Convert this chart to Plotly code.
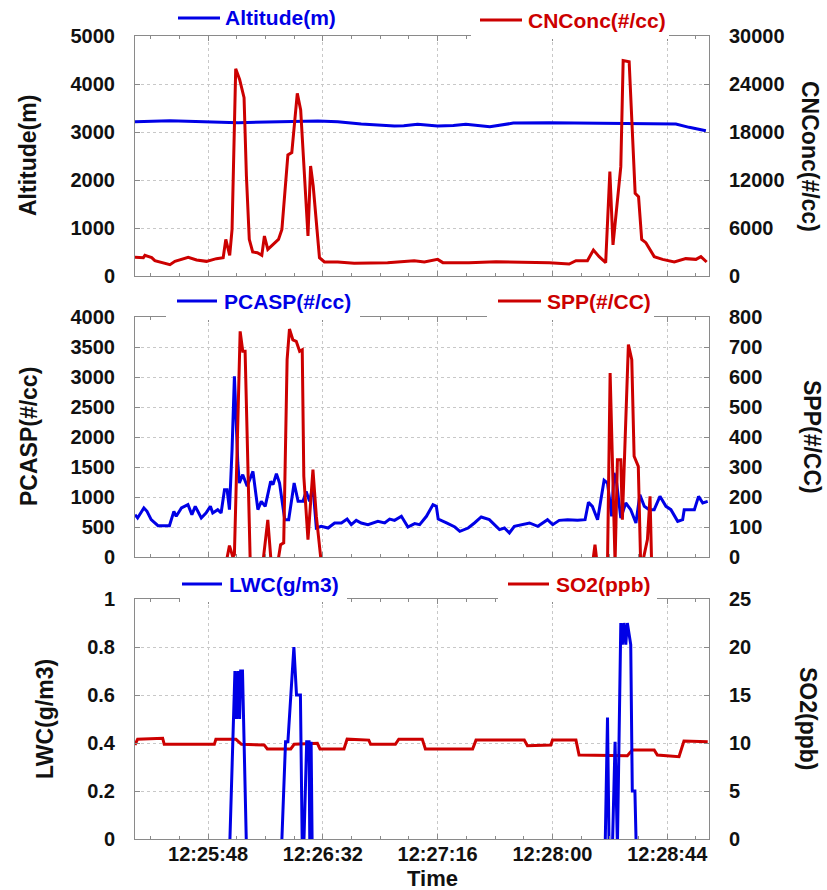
import pandas as pd
import plotly.graph_objects as go

BASE = pd.Timestamp("2000-01-01 12:25:20")
SPAN_S = 220

# ---------------- data (t = seconds after 12:25:20) ----------------
alt_t = [0, 13.4, 39.5, 70.1, 77.7, 86.7, 99.4, 103, 108.3, 116, 122, 126.8, 136, 145, 158.8, 184.3, 207.3, 212.4, 218.8]
alt_v = [3215, 3236, 3194, 3229, 3215, 3167, 3125, 3130, 3160, 3125, 3135, 3160, 3110, 3185, 3194, 3180, 3167, 3097, 3028]

cn_t = [0, 3.2, 3.8, 6.4, 7.6, 13.4, 15.3, 20.4, 23.6, 27.4, 31.2, 33.8, 34.8, 36.3, 37.2, 38.6, 40.1, 41.8,
        42.7, 43.8, 45.1, 46.9, 48.6, 49.6, 50.9, 52.8, 55.0, 56.3, 58.6, 60.1, 62.2, 63.5, 66.3, 67.3, 68.3,
        70.7, 72.6, 77.7, 84.0, 96.8, 107.0, 110.9, 116.0, 118.0, 128.0, 138.4, 158.8, 166.4, 169.0, 173.4,
        175.7, 177.9, 180.4, 182.0, 183.2, 186.2, 187.1, 189.4, 191.7, 193.0, 194.2, 195.8, 199.0, 202.2,
        206.7, 211.1, 215.0, 216.9, 219.1]
cn_v = [2330, 2290, 2580, 2290, 1920, 1420, 1830, 2330, 2000, 1830, 2170, 2290, 4580, 2580, 5830, 25900, 24580, 22290,
        12500, 4580, 3000, 2920, 2580, 5000, 3330, 3960, 4580, 5830, 15130, 15420, 22830, 20750, 5000, 13750, 11250,
        2290, 1750, 1750, 1580, 1670, 1920, 1750, 2080, 1670, 1670, 1790, 1670, 1500, 1920, 1920,
        3250, 2420, 1670, 13040, 3880, 13670, 26920, 26790, 10330, 9920, 4580, 4170, 2420, 2080,
        1750, 2170, 2080, 2420, 1750]

pcasp_t = [0, 1, 3.4, 4.6, 6.2, 8.8, 13.2, 14.9, 15.8, 17.8,
           20.3, 21.8, 23.1, 25.4, 27.2, 28.9, 29.8, 31.7, 33.0, 34.3,
           35.3, 36.2, 37.2, 38.1, 39.4, 40.0, 41.3, 43.0, 45.2, 47.1,
           48.4, 49.9, 52.0, 52.9, 54.2, 55.4, 57.4, 58.9, 61.0, 62.5,
           64.4, 65.6, 66.9, 68.2, 69.5, 71.4, 74.0, 76.5, 79.1, 81.3,
           82.9, 84.8, 86.7, 89.3, 93.1, 95.7, 97.6, 99.5, 102.1, 104.6,
           107.2, 109.1, 111.7, 114.2, 115.5, 116.2, 119.4, 122.6, 124.5, 127.7,
           130.1, 132.7, 135.8, 139.7, 141.6, 143.5, 145.4, 151.2, 154.4, 158.1,
           160.1, 162.6, 165.8, 169.6, 172.5, 173.8, 175.3, 177.3, 179.8, 181.1,
           182.7, 183.6, 184.6, 186.2, 188.1, 190.0, 192.0, 193.5, 195.2, 197.1,
           199.0, 201.2, 203.5, 205.4, 208.0, 209.9, 210.5, 214.4, 216.0, 217.6,
           219.5]
pcasp_v = [706, 650, 817, 761, 622, 522, 522, 761, 678, 817,
           872, 706, 844, 650, 733, 844, 733, 789, 733, 1122,
           1122, 789, 1789, 3011, 1567, 1233, 1372, 1178, 1428, 789,
           928, 844, 1261, 1206, 1389, 1233, 622, 622, 1233, 928,
           928, 1094, 928, 1178, 483, 511, 483, 567, 567, 633,
           539, 611, 567, 539, 594, 567, 633, 611, 678, 500,
           556, 539, 678, 872, 844, 633, 567, 500, 428, 483,
           567, 667, 622, 456, 483, 400, 511, 567, 511, 622,
           539, 611, 622, 611, 622, 911, 844, 622, 1278, 1233,
           678, 1400, 1233, 650, 900, 789, 567, 1039, 844, 789,
           789, 1011, 844, 789, 594, 622, 789, 789, 1011, 900,
           928]

# SPP: None = no data; slightly negative values fall below the axis
spp_t = [34.9, 36.2, 37.5, 38.1, 40.3, 41.3, 42.2, 44.2, None,
         49.0, 50.9, 52.2, None,
         54.7, 55.8, 57.0, 58.3, 59.2, 60.5, 61.8, 63.1, 64.1, 64.7, 66.3, 68.2, 69.5, 71.4, None,
         175.4, 176.3, 177.1, None,
         181.1, 182.1, 184.0, 184.9, 186.2, 186.8, 189.1, 190.4, 191.3, 192.9, 193.8, None,
         194.5, 196.4, 197.4, 198.0]
spp_v = [-20, 38, 0, 8, 752, 686, 686, -30, None,
         -20, 124, -20, None,
         -20, 41, 47, 658, 760, 724, 719, 686, 691, 269, 58, 291, 136, -20, None,
         -20, 41, -20, None,
         -20, 613, -20, 324, 324, 124, 708, 658, 336, 302, -20, None,
         -20, 58, 202, -20]

lwc_t = [36.3, 38.3, 38.9, 39.5, 40.1, 40.5, 41.2, 42.7, None,
         56.2, 57.7, 58.6, 60.9, 61.9, 63.4, 64.1, 64.7, 65.8, 66.7, 67.0, 67.5, 67.9, None,
         180.2, 181.1, 181.7, 183.0, 184.0, 184.9, 186.2, 186.8, 187.4, 188.1, 188.7, 190.0, 190.6, 191.6, 192.1]
lwc_v = [-0.03, 0.70, 0.50, 0.70, 0.50, 0.70, 0.70, -0.03, None,
         -0.03, 0.405, 0.405, 0.80, 0.60, 0.60, -0.03, -0.03, 0.405, 0.405, -0.03, 0.405, -0.03, None,
         -0.03, 0.506, -0.03, -0.03, 0.405, -0.03, 0.90, 0.81, 0.90, 0.81, 0.90, 0.81, 0.20, 0.20, -0.03]

so2_t = [0, 1, 10.6, 11.2, 30.4, 31.0, 38.7, 40.8, 49.5, 50.7, 59.7, 61.0, 69.9, 70.9, 80.1, 81.3, 89.6, 90.3,
         99.8, 101.1, 110.1, 111.3, 129.4, 130.7, 149.2, 150.4, 159.4, 160.0, 169.0, 170.2, 188.7, 190.6,
         199.0, 200.2, 208.5, 210.4, 219.5]
so2_v = [9.8, 10.4, 10.5, 9.86, 9.86, 10.38, 10.38, 9.86, 9.8, 9.38, 9.38, 9.86, 9.97, 9.38, 9.38, 10.4, 10.3, 9.86,
         9.86, 10.4, 10.4, 9.38, 9.38, 10.3, 10.3, 9.72, 9.8, 10.3, 10.3, 8.75, 8.68, 9.27,
         9.27, 8.75, 8.58, 10.2, 10.14]

tick_times = ["12:25:48", "12:26:32", "12:27:16", "12:28:00", "12:28:44"]

# ---------------- helpers ----------------
def to_x(ts):
    return [None if t is None else (BASE + pd.Timedelta(seconds=t)).strftime("%Y-%m-%d %H:%M:%S.%f") for t in ts]

W, H = 827, 890
XL, XR = 135, 709
PANELS = [(36, 276), (317, 557), (599, 839)]
def px(x): return x / W
def py(y): return 1 - y / H
def dom(top, bot): return [py(bot), py(top)]

FONT = "Liberation Sans, Arial, sans-serif"
BLUE = "#0000e6"
RED = "#cc0000"
AXC = "#8a8a8a"
GRIDC = "#c8c8c8"
LW = 3

fig = go.Figure()
fig.add_trace(go.Scatter(x=to_x(alt_t), y=alt_v, mode="lines", line=dict(color=BLUE, width=LW), xaxis="x", yaxis="y"))
fig.add_trace(go.Scatter(x=to_x(cn_t), y=cn_v, mode="lines", line=dict(color=RED, width=LW), xaxis="x", yaxis="y2"))
fig.add_trace(go.Scatter(x=to_x(pcasp_t), y=pcasp_v, mode="lines", line=dict(color=BLUE, width=LW), xaxis="x2", yaxis="y3"))
fig.add_trace(go.Scatter(x=to_x(spp_t), y=spp_v, mode="lines", line=dict(color=RED, width=LW), xaxis="x2", yaxis="y4", connectgaps=False))
fig.add_trace(go.Scatter(x=to_x(so2_t), y=so2_v, mode="lines", line=dict(color=RED, width=LW), xaxis="x3", yaxis="y6"))
fig.add_trace(go.Scatter(x=to_x(lwc_t), y=lwc_v, mode="lines", line=dict(color=BLUE, width=LW), xaxis="x3", yaxis="y5", connectgaps=False))

tickfont = dict(family=FONT, size=20, color="#111111", weight="bold")
t0 = to_x([0])[0]
t1 = to_x([SPAN_S])[0]
tick_vals = ["2000-01-01 " + s for s in tick_times]

def xax(anchor, labels):
    return dict(type="date", domain=[px(XL), px(XR)], anchor=anchor, range=[t0, t1],
                tickmode="array", tickvals=tick_vals, ticktext=tick_times, showticklabels=labels,
                tickfont=tickfont, ticklabelstandoff=-3,
                showline=True, linecolor=AXC, linewidth=1, mirror="ticks",
                ticks="inside", ticklen=5, tickcolor=AXC,
                showgrid=True, gridcolor=GRIDC, griddash="dot", gridwidth=1,
                minor=dict(tick0="2000-01-01 12:25:48", dtick=11000, ticks="inside", ticklen=3,
                           tickcolor=AXC, showgrid=False),
                zeroline=False, automargin=False, fixedrange=True)

def yax(d, rng, dt, side, grid, anchor, overlay=None):
    a = dict(range=rng, tick0=0, dtick=dt, side=side, anchor=anchor, tickformat="~r" if dt < 1 else "d",
             tickfont=tickfont, ticklabelstandoff=15,
             showline=True, linecolor=AXC, linewidth=1, ticks="inside", ticklen=5, tickcolor=AXC,
             showgrid=grid, gridcolor=GRIDC, griddash="dot", gridwidth=1,
             zeroline=False, automargin=False, fixedrange=True)
    if overlay:
        a["overlaying"] = overlay
    else:
        a["domain"] = d
    return a

d1, d2, d3 = [dom(*p) for p in PANELS]
fig.update_layout(
    width=W, height=H, autosize=False,
    margin=dict(l=0, r=0, t=0, b=0),
    paper_bgcolor="white", plot_bgcolor="white",
    showlegend=False,
    xaxis=xax("y", False),
    xaxis2=xax("y3", False),
    xaxis3=xax("y6", True),
    yaxis=yax(d1, [0, 5000], 1000, "left", True, "x"),
    yaxis2=yax(None, [0, 30000], 6000, "right", False, "x", overlay="y"),
    yaxis3=yax(d2, [0, 4000], 500, "left", True, "x2"),
    yaxis4=yax(None, [0, 800], 100, "right", False, "x2", overlay="y3"),
    yaxis6=yax(d3, [0, 25], 5, "right", True, "x3"),
    yaxis5=yax(None, [0, 1], 0.2, "left", False, "x3", overlay="y6"),
)

shapes = []
annos = []
# legend items: (line x0, line x1, line y, text x, text, colour, box (x0,x1) or None, border y)
legends = [
    (178, 220, 18, 223, "Altitude(m)", BLUE, None, 36),
    (480, 522, 20, 526, "CNConc(#/cc)", RED, (471, 669), 36),
    (177, 217, 301, 222, "PCASP(#/cc)", BLUE, (166, 360), 317),
    (498, 541, 301, 545, "SPP(#/CC)", RED, (487, 654), 317),
    (182, 222, 584, 227, "LWC(g/m3)", BLUE, (180, 347), 599),
    (508, 549, 584, 554, "SO2(ppb)", RED, (498, 657), 599),
]
for lx0, lx1, ly, tx, txt, col, box, by in legends:
    if box:
        shapes.append(dict(type="rect", xref="paper", yref="paper", layer="above",
                           x0=px(box[0]), x1=px(box[1]), y0=py(by + 3), y1=py(by - 7),
                           fillcolor="white", line=dict(width=0)))
    shapes.append(dict(type="line", xref="paper", yref="paper", layer="above",
                       x0=px(lx0), x1=px(lx1), y0=py(ly), y1=py(ly), line=dict(color=col, width=LW)))
    annos.append(dict(text=txt, x=px(tx), y=py(ly), xref="paper", yref="paper", xanchor="left",
                      yanchor="middle", showarrow=False, font=dict(family=FONT, size=21, color=col, weight="bold")))

titlefont = dict(family=FONT, size=23, color="#111111", weight="bold")
left_titles = [("Altitude(m)", 28, PANELS[0]), ("PCASP(#/cc)", 29, PANELS[1]), ("LWC(g/m3)", 45, PANELS[2])]
right_titles = [("CNConc(#/cc)", 810, PANELS[0]), ("SPP(#/CC)", 812, PANELS[1]), ("SO2(ppb)", 808, PANELS[2])]
for txt, x, (a, b) in left_titles:
    annos.append(dict(text=txt, x=px(x), y=py((a + b) / 2), xref="paper", yref="paper", textangle=-90,
                      xanchor="center", yanchor="middle", showarrow=False, font=titlefont))
for txt, x, (a, b) in right_titles:
    annos.append(dict(text=txt, x=px(x), y=py((a + b) / 2), xref="paper", yref="paper", textangle=90,
                      xanchor="center", yanchor="middle", showarrow=False, font=titlefont))
annos.append(dict(text="Time", x=px(432), y=py(878), xref="paper", yref="paper", xanchor="center",
                  yanchor="middle", showarrow=False, font=dict(family=FONT, size=22, color="#111111", weight="bold")))

fig.update_layout(shapes=shapes, annotations=annos)
fig.write_html("out.html", config={"displayModeBar": False},
               post_script="document.body.style.margin='0px';")
